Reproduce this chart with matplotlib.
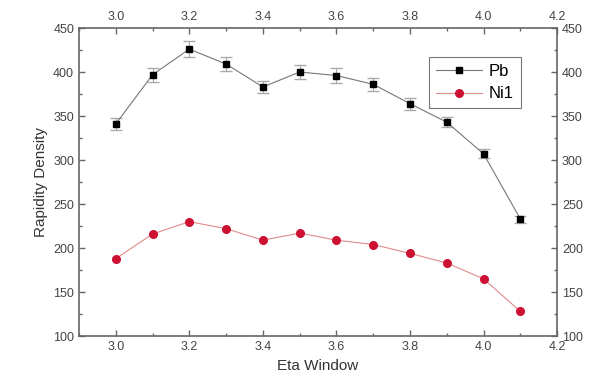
import matplotlib.pyplot as plt
from matplotlib.ticker import MultipleLocator

plt.rcParams['font.family'] = ['Liberation Sans', 'DejaVu Sans']

# eta windows and rapidity densities
eta = [3.0, 3.1, 3.2, 3.3, 3.4, 3.5, 3.6, 3.7, 3.8, 3.9, 4.0, 4.1]
pb = [341, 397, 426, 409, 383, 400, 396, 386, 364, 343, 307, 233]
pb_err = [7, 8, 9, 8, 7, 8, 8, 7, 7, 6, 5, 4]
ni1 = [188, 216, 230, 222, 209, 217, 209, 204, 194, 183, 165, 128]

fig = plt.figure(figsize=(6.03, 3.89), dpi=100)
ax = fig.add_axes([0.131, 0.136, 0.793, 0.792])

eb = ax.errorbar(eta, pb, yerr=pb_err, color='#777777', lw=0.8, ecolor='#aaaaaa',
                 elinewidth=0.8, capsize=4, marker='s', ms=5, mfc='black',
                 mec='black')
ln, = ax.plot(eta, ni1, color='#e08a8a', lw=0.8, marker='o', ms=5.5, mfc='#cc1133',
              mec='#cc1133')

ax.set_xlim(2.9, 4.2)
ax.set_ylim(100, 450)
ax.xaxis.set_minor_locator(MultipleLocator(0.1))
ax.yaxis.set_major_locator(MultipleLocator(50))
ax.yaxis.set_minor_locator(MultipleLocator(25))
ax.set_xticks([3.0, 3.2, 3.4, 3.6, 3.8, 4.0, 4.2])
ax.set_xticklabels(['3.0', '3.2', '3.4', '3.6', '3.8', '4.0', '4.2'])

for s in ax.spines.values():
    s.set_color('#666666')
    s.set_linewidth(1.2)
ax.tick_params(which='both', direction='in', top=True, right=True,
               labeltop=True, labelright=True, colors='#666666',
               labelcolor='#444444', labelsize=9)
ax.tick_params(which='major', length=4, width=1)
ax.tick_params(which='minor', length=2.5, width=1)

ax.set_xlabel('Eta Window', fontsize=11, color='#333333')
ax.set_ylabel('Rapidity Density', fontsize=11, color='#333333')

leg = ax.legend([eb[0], ln], ['Pb', 'Ni1'], loc='upper left',
                bbox_to_anchor=(0.732, 0.905), borderaxespad=0, fontsize=12,
                fancybox=False, handlelength=2.8, borderpad=0.4,
                labelspacing=0.45, handletextpad=0.4)
leg.get_frame().set_edgecolor('#555555')
leg.get_frame().set_linewidth(0.8)

fig.savefig('out.png', dpi=100)
